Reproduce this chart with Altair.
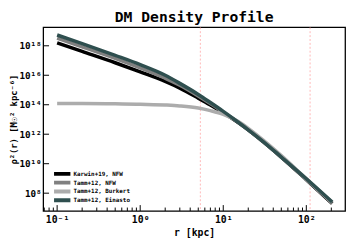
import altair as alt
import pandas as pd

# radius [kpc]
r_vals = [0.1, 0.2, 0.5, 1, 2, 3, 5, 7, 10, 15, 20, 30, 50, 100, 205]
# log10 of rho^2
karwin_nfw = [18.20, 17.62, 16.85, 16.23, 15.58, 15.13, 14.45, 13.98, 13.45, 12.80, 12.30, 11.51, 10.45, 8.92, 7.30]
tamm_nfw = [18.52, 17.93, 17.15, 16.50, 15.80, 15.33, 14.60, 14.08, 13.50, 12.83, 12.30, 11.52, 10.45, 8.95, 7.36]
tamm_burkert = [14.08, 14.08, 14.06, 14.04, 13.98, 13.92, 13.78, 13.60, 13.35, 12.88, 12.40, 11.62, 10.55, 8.97, 7.36]
tamm_einasto = [18.73, 18.15, 17.35, 16.72, 16.00, 15.45, 14.70, 14.15, 13.55, 12.83, 12.30, 11.52, 10.45, 8.98, 7.40]

series_names = ["Karwin+19, NFW", "Tamm+12, NFW", "Tamm+12, Burkert", "Tamm+12, Einasto"]
series_colors = ["#000000", "#808080", "#acacac", "#2f4f4f"]
series_vals = [karwin_nfw, tamm_nfw, tamm_burkert, tamm_einasto]

vlines = [5.3, 111]

x_major = [0.1, 1, 10, 100]
x_major_labels = ["10⁻¹", "10⁰", "10¹", "10²"]
x_minor = [0.07, 0.08, 0.09, 0.2, 0.3, 0.4, 0.5, 0.6, 0.7, 0.8, 0.9,
           2, 3, 4, 5, 6, 7, 8, 9, 20, 30, 40, 50, 60, 70, 80, 90, 200]
y_major = [1e8, 1e10, 1e12, 1e14, 1e16, 1e18]
y_major_labels = ["10⁸", "10¹⁰", "10¹²", "10¹⁴", "10¹⁶", "10¹⁸"]

W, H = 309, 188
FONT = "DejaVu Sans Mono"

rows = []
for name, vals in zip(series_names, series_vals):
    for r, e in zip(r_vals, vals):
        rows.append({"r": r, "rho2": 10 ** e, "series": name})
df = pd.DataFrame(rows)


def expr(vals, labs):
    return " : ".join(f"datum.value == {v} ? '{l}'" for v, l in zip(vals, labs)) + " : ''"


xscale = alt.Scale(type="log", domain=[0.0679, 293], nice=False)
yscale = alt.Scale(type="log", domain=[6.2e6, 1.8e19], nice=False)

xaxis = alt.Axis(values=x_major, labelExpr=expr(x_major, x_major_labels), ticks=False,
                 domain=False, grid=False, labelFont=FONT, labelFontWeight="bold",
                 labelFontSize=10, labelColor="black", labelPadding=4,
                 title="r [kpc]", titleFont=FONT, titleFontWeight="bold",
                 titleFontSize=10, titleColor="black", titlePadding=3)
yaxis = alt.Axis(values=y_major, labelExpr=expr(y_major, y_major_labels), ticks=False,
                 domain=False, grid=False, labelFont=FONT, labelFontWeight="bold",
                 labelFontSize=9.5, labelColor="black", labelPadding=2,
                 title="ρ²(r) [M☉² kpc⁻⁶]", titleFont=FONT, titleFontWeight="bold",
                 titleFontSize=9, titleColor="black", titlePadding=0)

X = alt.X("r:Q", scale=xscale, axis=xaxis)
Y = alt.Y("rho2:Q", scale=yscale, axis=yaxis)

color = alt.Color("series:N", scale=alt.Scale(domain=series_names, range=series_colors),
                  sort=series_names,
                  legend=alt.Legend(title=None, orient="none", legendX=9, legendY=145.5,
                                    symbolType="stroke", symbolSize=280,
                                    symbolStrokeWidth=4, clipHeight=9,
                                    labelFont=FONT,
                                    labelFontWeight="bold", labelFontSize=6,
                                    labelColor="black", rowPadding=0,
                                    labelOffset=1, padding=0))

vdf = pd.DataFrame({"r": vlines})
vl = alt.Chart(vdf).mark_rule(color="#ff9999", strokeWidth=1, strokeDash=[2, 2], opacity=0.7).encode(x=X)

layers = [vl]
for name in series_names:
    layers.append(
        alt.Chart(df).transform_filter(alt.datum.series == name)
        .mark_line(strokeWidth=3.6, interpolate="monotone", clip=True)
        .encode(x=X, y=Y, color=color)
    )

xmaj = pd.DataFrame({"r": x_major})
xmin = pd.DataFrame({"r": x_minor})
ymaj = pd.DataFrame({"rho2": y_major})
layers.append(alt.Chart(xmaj).mark_rule(color="black", strokeWidth=1).encode(
    x=X, y=alt.value(H), y2=alt.value(H - 6)))
layers.append(alt.Chart(xmin).mark_rule(color="black", strokeWidth=1).encode(
    x=X, y=alt.value(H), y2=alt.value(H - 3.5)))
layers.append(alt.Chart(ymaj).mark_rule(color="black", strokeWidth=1).encode(
    y=Y, x=alt.value(0), x2=alt.value(6)))

chart = alt.layer(*layers).properties(
    width=W, height=H,
    title=alt.Title("DM Density Profile", font=FONT, fontWeight="bold", fontSize=15,
                    color="black", offset=2),
    padding={"left": 36, "top": 17, "right": 4, "bottom": 28},
    autosize=alt.AutoSizeParams(type="none"),
).configure_view(stroke="black", strokeWidth=1.3)

chart.save("out.html", embed_options={"renderer": "svg", "actions": False})
